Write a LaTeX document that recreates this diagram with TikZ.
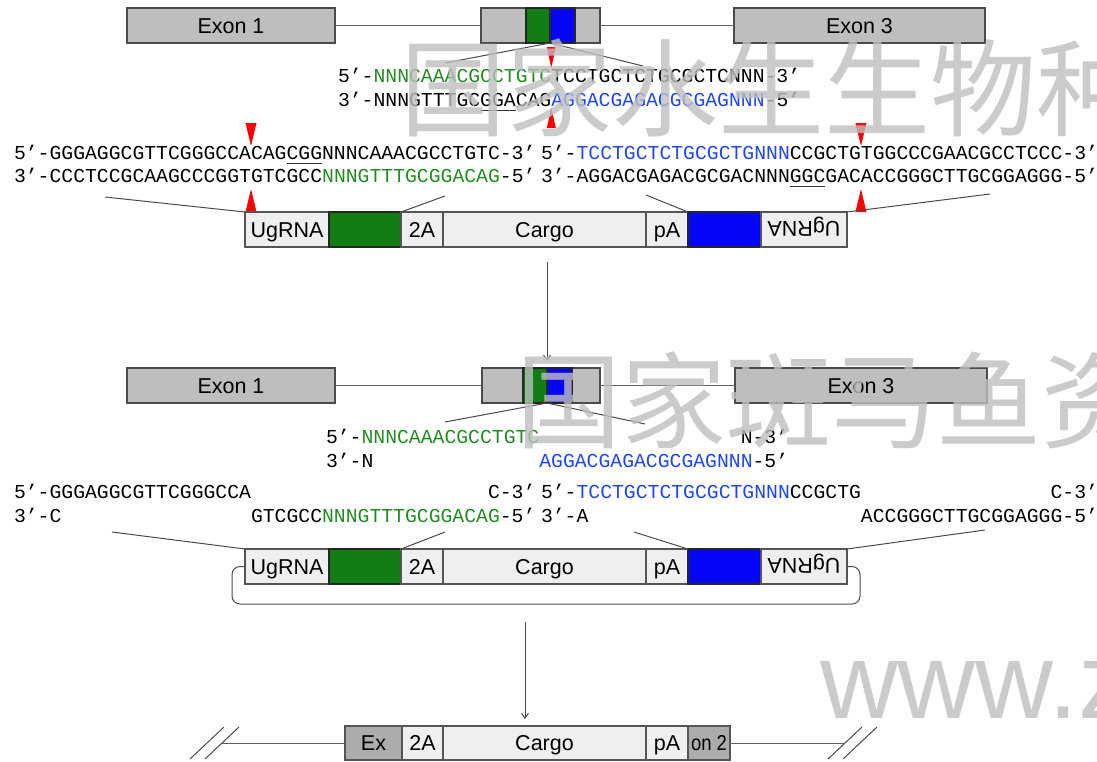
\documentclass[tikz,border=0pt]{standalone}
\usepackage{fontspec}
\usetikzlibrary{arrows.meta}
\setmainfont{Liberation Sans}
\newfontfamily\seqfamily{Liberation Mono}
\newfontfamily\labfamily{Liberation Sans}
\newfontfamily\cjkfamily{Noto Sans CJK SC}
\newcommand\seqfnt{\seqfamily\fontsize{19.75}{20}\selectfont}
\newcommand\labfnt{\labfamily\fontsize{21.5}{22}\selectfont}

\definecolor{exongray}{RGB}{190,190,190}
\definecolor{exonedge}{RGB}{75,75,75}
\definecolor{boxfill}{RGB}{239,239,239}
\definecolor{boxedge}{RGB}{85,85,85}
\definecolor{darkbox}{RGB}{172,172,172}
\definecolor{gblock}{RGB}{18,125,18}
\definecolor{bblock}{RGB}{5,5,250}
\definecolor{gtext}{RGB}{34,139,34}
\definecolor{btext}{RGB}{30,70,245}
\definecolor{wmark}{RGB}{190,190,190}
\definecolor{linegray}{RGB}{75,75,75}

\begin{document}
\begin{tikzpicture}[x=1pt,y=1pt,
  exonbox/.style={draw=exonedge, fill=exongray, line width=1.2pt, minimum height=35, inner sep=0pt, outer sep=0pt, font=\labfnt, text height=15.4pt, text depth=0pt},
  gblk/.style={draw=black!85, fill=gblock, line width=1.1pt, minimum height=35, inner sep=0pt, outer sep=0pt},
  bblk/.style={gblk, fill=bblock},
  ibox/.style={draw=boxedge, fill=boxfill, line width=1.2pt, minimum height=35, inner sep=0pt, outer sep=0pt, font=\labfnt, text height=15.4pt, text depth=0pt},
  flipbox/.style={ibox, text height=0pt, text depth=15.4pt},
  dbox/.style={ibox, fill=darkbox},
  seqtxt/.style={anchor=base west, inner sep=0pt, outer sep=0pt, font=\seqfnt},
  intron/.style={draw=gray!75!black, line width=1pt},
  conn/.style={draw=linegray, line width=1pt},
  uline/.style={draw=black!80, line width=0.9pt},
  cutmark/.style={fill=red, draw=none},
  downarrow/.style={draw=gray!60!black, line width=1pt, -{Straight Barb[length=5pt,width=7pt]}},
  wm/.style={inner sep=0pt, outer sep=0pt, anchor=base west, text=wmark, text opacity=0.8}
]
\useasboundingbox (0,0) rectangle (1097,-761);
\def\cw{11.85}

% ---------- genomic locus ----------
\node[exonbox, minimum width=208] (t1) at (231,-25.5) {Exon 1};
\node[exonbox, minimum width=119] (t2) at (540.5,-25.5) {};
\node[exonbox, minimum width=251] (t3) at (859.5,-25.5) {Exon 3};
\node[gblk, minimum width=24] (t2g) at (538,-25.5) {};
\node[bblk, minimum width=25] (t2b) at (562.5,-25.5) {};
\draw[intron] (t1.east) -- (t2.west);
\draw[intron] (t2.east) -- (t3.west);

\coordinate (tzl) at (445,-63);
\coordinate (tzr) at (643,-66);
\draw[conn] (tzl) -- (t2g.south east) -- (tzr);

% target site
\node[seqtxt] (s1a) at (338,-82) {5’-\textcolor{gtext}{NNNCAAACGCCTGTC}TCCTGCTCTGCGCTCNNN-3’};
\node[seqtxt] (s1b) at (338,-106) {3’-NNNGTTTGCGGACAG\textcolor{btext}{AGGACGAGACGCGAGNNN}-5’};
\draw[uline] ({338+12*\cw},-110.5) -- ({338+15*\cw},-110.5);
\fill[cutmark] ({338+18*\cw-4.5},-47) -- ({338+18*\cw+4.5},-47) -- ({338+18*\cw},-68) -- cycle;
\fill[cutmark] ({338+18*\cw-4.5},-128) -- ({338+18*\cw+4.5},-128) -- ({338+18*\cw},-108) -- cycle;

% ---------- donor with flanking sites ----------
\node[seqtxt] (s2a) at (14,-159) {5’-GGGAGGCGTTCGGGCCACAGCGGNNNCAAACGCCTGTC-3’};
\node[seqtxt] (s2b) at (14,-182) {3’-CCCTCCGCAAGCCCGGTGTCGCC\textcolor{gtext}{NNNGTTTGCGGACAG}-5’};
\draw[uline] ({14+23*\cw},-163.5) -- ({14+26*\cw},-163.5);
\node[seqtxt] (s2c) at (541,-159) {5’-\textcolor{btext}{TCCTGCTCTGCGCTGNNN}CCGCTGTGGCCCGAACGCCTCCC-3’};
\node[seqtxt] (s2d) at (541,-182) {3’-AGGACGAGACGCGACNNNGGCGACACCGGGCTTGCGGAGGG-5’};
\draw[uline] ({541+21*\cw},-186.5) -- ({541+24*\cw},-186.5);

\foreach \cx in {{14+20*\cw}, {541+27*\cw}} {
  \fill[cutmark] ({\cx-5.5},-123) -- ({\cx+5.5},-123) -- ({\cx},-146) -- cycle;
  \fill[cutmark] ({\cx-5.5},-212) -- ({\cx+5.5},-212) -- ({\cx},-189) -- cycle;
}

\node[ibox, minimum width=84]  (ug1)  at (287,-229.5) {UgRNA};
\node[gblk, minimum width=72]  (gr1)  at (365,-229.5) {};
\node[ibox, minimum width=42]  (ta1)  at (422,-229.5) {2A};
\node[ibox, minimum width=203] (cg1)  at (544.5,-229.5) {Cargo};
\node[ibox, minimum width=42]  (pa1)  at (667,-229.5) {pA};
\node[bblk, minimum width=73]  (bl1)  at (724.5,-229.5) {};
\node[flipbox, minimum width=86] (ugr1) at (804,-229.5) {\rotatebox{180}{UgRNA}};

\coordinate (c1a) at (105,-197);
\coordinate (c1b) at (445,-196);
\coordinate (c1c) at (646,-195);
\coordinate (c1d) at (990,-194);
\draw[conn] (c1a) -- (ug1.north west);
\draw[conn] (c1b) -- (gr1.north east);
\draw[conn] (c1c) -- (bl1.north west);
\draw[conn] (c1d) -- (ugr1.north east);

\coordinate (a1s) at (547,-262);

% ---------- cut locus and linearised donor ----------
\node[exonbox, minimum width=208] (b1) at (231,-385.5) {Exon 1};
\node[exonbox, minimum width=118] (b2) at (541,-385.5) {};
\node[exonbox, minimum width=252] (b3) at (861,-385.5) {Exon 3};
\node[gblk, minimum width=24] (b2g) at (535,-385.5) {};
\node[bblk, minimum width=25] (b2b) at (559.5,-385.5) {};
\draw[intron] (b1.east) -- (b2.west);
\draw[intron] (b2.east) -- (b3.west);
\draw[downarrow, shorten >=7pt] (a1s) -- (a1s |- b2.north);

\coordinate (bzl) at (445,-422);
\coordinate (bzr) at (645,-424);
\draw[conn] (bzl) -- (b2g.south east) -- (bzr);

\node[seqtxt] (s3a) at (326,-443) {5’-\textcolor{gtext}{NNNCAAACGCCTGTC}};
\node[seqtxt] (s3b) at ({326+35*\cw},-443) {N-3’};
\node[seqtxt] (s3c) at (326,-467) {3’-N};
\node[seqtxt] (s3d) at ({326+18*\cw},-467) {\textcolor{btext}{AGGACGAGACGCGAGNNN}-5’};

\node[seqtxt] (s4a) at (14,-498) {5’-GGGAGGCGTTCGGGCCA};
\node[seqtxt] (s4b) at ({14+40*\cw},-498) {C-3’};
\node[seqtxt] (s4c) at (14,-522) {3’-C};
\node[seqtxt] (s4d) at ({14+20*\cw},-522) {GTCGCC\textcolor{gtext}{NNNGTTTGCGGACAG}-5’};
\node[seqtxt] (s4e) at (541,-498) {5’-\textcolor{btext}{TCCTGCTCTGCGCTGNNN}CCGCTG};
\node[seqtxt] (s4f) at ({541+43*\cw},-498) {C-3’};
\node[seqtxt] (s4g) at (541,-522) {3’-A};
\node[seqtxt] (s4h) at ({541+27*\cw},-522) {ACCGGGCTTGCGGAGGG-5’};

\node[ibox, minimum width=84]  (ug2)  at (287,-566.5) {UgRNA};
\node[gblk, minimum width=72]  (gr2)  at (365,-566.5) {};
\node[ibox, minimum width=42]  (ta2)  at (422,-566.5) {2A};
\node[ibox, minimum width=203] (cg2)  at (544.5,-566.5) {Cargo};
\node[ibox, minimum width=42]  (pa2)  at (667,-566.5) {pA};
\node[bblk, minimum width=73]  (bl2)  at (724.5,-566.5) {};
\node[flipbox, minimum width=86] (ugr2) at (804,-566.5) {\rotatebox{180}{UgRNA}};

\coordinate (c2a) at (112,-532);
\coordinate (c2b) at (445,-532);
\coordinate (c2c) at (634,-532);
\coordinate (c2d) at (985,-530);
\draw[conn] (c2a) -- (ug2.north west);
\draw[conn] (c2b) -- (gr2.north east);
\draw[conn] (c2c) -- (bl2.north west);
\draw[conn] (c2d) -- (ugr2.north east);

% ends of the linear donor joined by the plasmid backbone
\draw[conn, rounded corners=8pt] (ug2.west) -| (232,-604) -| (860,-566.5) -- (ugr2.east);

\coordinate (a2s) at (525,-622);

% ---------- knock-in allele ----------
\node[dbox, minimum width=57, minimum height=34]  (e1) at (373.5,-743) {Ex};
\node[ibox, minimum width=41, minimum height=34]  (e2) at (422.5,-743) {2A};
\node[ibox, minimum width=203, minimum height=34] (e3) at (544.5,-743) {Cargo};
\node[ibox, minimum width=42, minimum height=34]  (e4) at (667,-743) {pA};
\node[dbox, minimum width=42, minimum height=34]  (e5) at (709,-743) {\scalebox{0.86}[1]{on 2}};
\draw[downarrow, shorten >=7pt] (a2s) -- (a2s |- e3.north);

\coordinate (lbrk) at (222,-743);
\coordinate (rbrk) at (845,-743);
\draw[intron] (lbrk) -- (e1.west);
\draw[intron] (e5.east) -- (rbrk);
\foreach \sx in {207,222,845,860}
  \draw[conn] ({\sx-17},-759) -- ({\sx+17},-727);

% ---------- overlaid site marks ----------
\node[wm, font=\cjkfamily\fontsize{106}{106}\selectfont] (wm1) at (400,-128) {国家水生生物种};
\node[wm, font=\cjkfamily\fontsize{105}{105}\selectfont] (wm2) at (516,-440) {国家斑马鱼资};
\node[wm, font=\labfamily\fontsize{108}{108}\selectfont] (wm3) at (820,-718) {www.z};
\end{tikzpicture}
\end{document}
